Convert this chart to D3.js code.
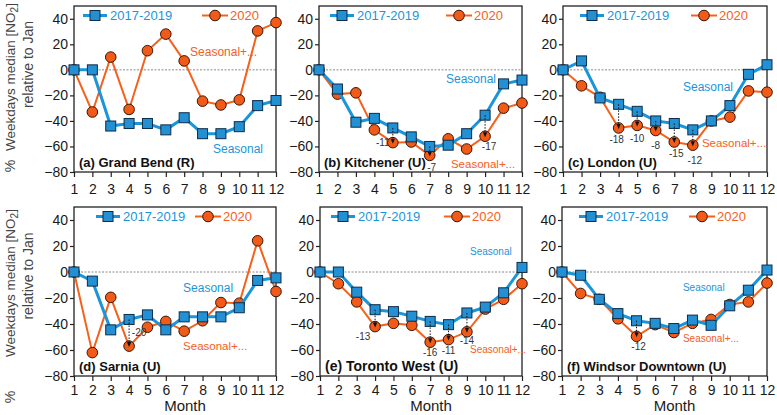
<!DOCTYPE html>
<html><head><meta charset="utf-8">
<script src="https://cdn.jsdelivr.net/npm/d3@7"></script>
<style>
html,body{margin:0;padding:0;background:#fff;}
text{font-family:Arial,"Liberation Sans",Helvetica,sans-serif;}
</style></head>
<body><svg id="c" width="777" height="415"></svg>
<script>
// ---------- DATA ----------
const months = [1,2,3,4,5,6,7,8,9,10,11,12];
const yTicks = [-80,-60,-40,-20,0,20,40];
const seriesNames = ["2017-2019","2020"];
const panelTitles = ["(a) Grand Bend (R)","(b) Kitchener (U)","(c) London (U)","(d) Sarnia (U)","(e) Toronto West (U)","(f) Windsor Downtown (U)"];

const grandBendBase   = [0, 0, -44, -42, -42, -47, -37.5, -50, -50, -44.5, -28, -24];
const grandBend2020   = [0, -33, 10, -31, 15, 28, 7, -24.5, -27.5, -23.5, 30.5, 37];
const kitchenerBase   = [0, -15, -41, -38, -45.5, -52.5, -60, -59, -50, -35.5, -11, -8];
const kitchener2020   = [0, -19, -18, -47, -57, -56.5, -67, -54, -62, -52, -30, -26];
const londonBase      = [0, 7, -22, -27, -32.5, -40, -42, -47, -40, -28, -3.5, 4];
const london2020      = [0, -12.5, -21.5, -45.5, -43.5, -47.5, -56.5, -59, -40, -37, -16.5, -17.5];
const sarniaBase      = [0, -7, -44.5, -36.5, -33, -44.5, -34.5, -34.5, -34.5, -27.5, -6.5, -4.5];
const sarnia2020      = [0, -62, -19.5, -57, -42.5, -38, -45.5, -37.5, -23.5, -24, 24, -15];
const torontoWBase    = [0, 0, -15.5, -29, -30.5, -34, -38, -40.5, -31.5, -27, -16, 3.5];
const torontoW2020    = [0, -9, -23, -42, -39.5, -41, -54, -52, -46, -28.5, -21, -9];
const windsorBase     = [0, -2.5, -21, -32, -37.5, -39.5, -43.5, -37, -41, -26, -14, 1.5];
const windsor2020     = [0, -16.5, -21, -36, -49.5, -40.5, -46.5, -39.5, -36.5, -25, -23, -8.5];

// difference annotations (month, label)
const annotA = [];
const annotB = [[5,"-11"],[7,"-7"],[10,"-17"]];
const annotC = [[4,"-18"],[5,"-10"],[6,"-8"],[7,"-15"],[8,"-12"]];
const annotD = [[4,"-20"]];
const annotE = [[4,"-13"],[7,"-16"],[8,"-11"],[9,"-14"]];
const annotF = [[5,"-12"]];

const baseSeries = [grandBendBase, kitchenerBase, londonBase, sarniaBase, torontoWBase, windsorBase];
const covidSeries = [grandBend2020, kitchener2020, london2020, sarnia2020, torontoW2020, windsor2020];
const annots = [annotA, annotB, annotC, annotD, annotE, annotF];

// ---------- LAYOUT / STYLE ----------
const boxes = [
  {x0:74, x1:276, y0:6, y1:172, row:0},
  {x0:319, x1:522, y0:6, y1:172, row:0},
  {x0:563, x1:767, y0:6, y1:172, row:0},
  {x0:74, x1:276, y0:207, y1:376, row:1},
  {x0:320, x1:522, y0:207, y1:376, row:1},
  {x0:562, x1:767, y0:207, y1:376, row:1}
];
// legend: square x offset, circle x offset (from left of frame)
const legendPos = [[21,141],[23,140],[29,141],[34,134],[23,137],[29,140]];
const titleSize = [13,13,13,13,14,13];
// label positions in data space [month, value, fontsize]
const seasonalPos  = [[8.57,-62,12],[7.88,-7.2,12],[7.47,-13.5,12],[6.94,-12,12],[9.17,15.7,10],[7.49,-12,10]];
const seasonal2Pos = [[7.32,13.9,12],[8.15,-73.7,11.5],[8.49,-57.3,11.5],[6.94,-56.8,11.5],[9.17,-59.9,10],[7.49,-51.4,10]];
// annotation label offsets from the 2020 marker
const annotOff = [
  [],
  [[-10,0],[2,12],[4,10]],
  [[-2,12],[0,13],[0,15],[2,12],[2,15]],
  [[10,-14]],
  [[-12,10],[0,10],[0,11],[0,9]],
  [[2,10]]
];

const BLUE = "#1b95d9", BLUE_FILL = "#2390d4", BLUE_EDGE = "#0d2c48";
const ORANGE = "#f5601c", ORANGE_FILL = "#f25a18", ORANGE_EDGE = "#3a1606";

const svg = d3.select("#c");
svg.append("rect").attr("width",777).attr("height",415).attr("fill","#fff");

boxes.forEach((b, i) => {
  const x = d3.scaleLinear().domain([1,12]).range([b.x0,b.x1]);
  const y = d3.scaleLinear().domain([-80,50]).range([b.y1,b.y0]);
  const g = svg.append("g");

  // zero line
  g.append("line").attr("x1",b.x0).attr("x2",b.x1).attr("y1",y(0)).attr("y2",y(0))
    .attr("stroke","#888").attr("stroke-width",1).attr("stroke-dasharray","2,1.5");

  // axes
  const ya = g.append("g").attr("transform",`translate(${b.x0},0)`)
    .call(d3.axisLeft(y).tickValues(yTicks).tickSize(4).tickPadding(2).tickFormat(d3.format("d")));
  ya.select(".domain").remove();
  ya.selectAll("line").attr("stroke","#222").attr("stroke-width",1.2);
  ya.selectAll("text").attr("font-size",14).attr("fill","#1a1a1a").attr("font-family","Arial, Liberation Sans, sans-serif");

  const xa = g.append("g").attr("transform",`translate(0,${b.y1})`)
    .call(d3.axisBottom(x).tickValues(months).tickSize(5).tickPadding(b.row===0?7:4).tickFormat(d3.format("d")));
  xa.select(".domain").remove();
  xa.selectAll("line").attr("stroke","#222").attr("stroke-width",1.2);
  xa.selectAll("text").attr("font-size",14).attr("fill","#1a1a1a").attr("font-family","Arial, Liberation Sans, sans-serif");

  // frame
  g.append("rect").attr("x",b.x0).attr("y",b.y0).attr("width",b.x1-b.x0).attr("height",b.y1-b.y0)
    .attr("fill","none").attr("stroke","#222").attr("stroke-width",1.3);

  const base = months.map((m,k)=>({m, v: baseSeries[i][k]}));
  const cov = months.map((m,k)=>({m, v: covidSeries[i][k]}));
  const line = d3.line().x(d=>x(d.m)).y(d=>y(d.v));

  // 2020 series
  g.append("path").datum(cov).attr("d",line).attr("fill","none").attr("stroke",ORANGE).attr("stroke-width",2);
  g.selectAll(".c").data(cov).enter().append("circle")
    .attr("cx",d=>x(d.m)).attr("cy",d=>y(d.v)).attr("r",5.3)
    .attr("fill",ORANGE_FILL).attr("stroke",ORANGE_EDGE).attr("stroke-width",1);

  // base series
  g.append("path").datum(base).attr("d",line).attr("fill","none").attr("stroke",BLUE).attr("stroke-width",3);
  g.selectAll(".s").data(base).enter().append("rect")
    .attr("x",d=>x(d.m)-5).attr("y",d=>y(d.v)-5).attr("width",10).attr("height",10)
    .attr("fill",BLUE_FILL).attr("stroke",BLUE_EDGE).attr("stroke-width",1);

  // annotations
  annots[i].forEach((a, k) => {
    const m = a[0];
    const xb = x(m), yb = y(baseSeries[i][m-1]), yc = y(covidSeries[i][m-1]);
    g.append("line").attr("x1",xb).attr("x2",xb).attr("y1",yb).attr("y2",yc-3)
      .attr("stroke","#111").attr("stroke-width",1).attr("stroke-dasharray","1.5,1.5");
    g.append("path").attr("d",`M${xb-2.2},${yc-4}L${xb+2.2},${yc-4}L${xb},${yc+1}Z`).attr("fill","#111");
    const off = annotOff[i][k];
    g.append("text").attr("x",xb+off[0]).attr("y",yc+off[1]).attr("text-anchor","middle")
      .attr("dominant-baseline","central").attr("font-size",10).attr("fill","#333").text(a[1]);
  });

  // Seasonal labels
  const sp = seasonalPos[i], sp2 = seasonal2Pos[i];
  g.append("text").attr("x",x(sp[0])).attr("y",y(sp[1])).attr("dominant-baseline","central")
    .attr("font-size",sp[2]).attr("fill",BLUE).text("Seasonal");
  g.append("text").attr("x",x(sp2[0])).attr("y",y(sp2[1])).attr("dominant-baseline","central")
    .attr("font-size",sp2[2]).attr("fill",ORANGE).text("Seasonal+...");

  // legend
  const ly = b.y0 + 9.5;
  const lp = legendPos[i];
  const sx = b.x0 + lp[0], cx = b.x0 + lp[1];
  g.append("line").attr("x1",sx-12).attr("x2",sx+12).attr("y1",ly).attr("y2",ly).attr("stroke",BLUE).attr("stroke-width",3);
  g.append("rect").attr("x",sx-5).attr("y",ly-5).attr("width",10).attr("height",10)
    .attr("fill",BLUE_FILL).attr("stroke",BLUE_EDGE).attr("stroke-width",1);
  g.append("text").attr("x",sx+15).attr("y",ly).attr("dominant-baseline","central")
    .attr("font-size",13).attr("fill",BLUE).text(seriesNames[0]);
  g.append("line").attr("x1",cx-13).attr("x2",cx+13).attr("y1",ly).attr("y2",ly).attr("stroke",ORANGE).attr("stroke-width",2);
  g.append("circle").attr("cx",cx).attr("cy",ly).attr("r",5.3)
    .attr("fill",ORANGE_FILL).attr("stroke",ORANGE_EDGE).attr("stroke-width",1);
  g.append("text").attr("x",cx+15).attr("y",ly).attr("dominant-baseline","central")
    .attr("font-size",13).attr("fill",ORANGE).text(seriesNames[1]);

  // title
  g.append("text").attr("x",b.x0+5).attr("y",b.y1-10).attr("dominant-baseline","central")
    .attr("font-size",titleSize[i]).attr("font-weight","bold").attr("fill","#111").text(panelTitles[i]);

  // Month label (bottom row)
  if (b.row === 1) {
    g.append("text").attr("x",(b.x0+b.x1)/2+10).attr("y",405).attr("text-anchor","middle")
      .attr("dominant-baseline","central").attr("font-size",15).attr("fill","#1a1a1a").text("Month");
  }
});

// Y-axis labels
const yLabelRows = [
  {l1:77, pct:166, l2:64.5},
  {l1:283, pct:397, l2:276}
];
yLabelRows.forEach(r => {
  const t1 = svg.append("text").attr("transform",`translate(10,${r.l1}) rotate(-90)`)
    .attr("text-anchor","middle").attr("dominant-baseline","central").attr("font-size",13.5).attr("fill","#444");
  t1.append("tspan").text("Weekdays median [NO");
  t1.append("tspan").attr("font-size",10).attr("dy",4).text("2");
  t1.append("tspan").attr("dy",-4).text("]");
  svg.append("text").attr("transform",`translate(10,${r.pct}) rotate(-90)`)
    .attr("text-anchor","middle").attr("dominant-baseline","central").attr("font-size",14).attr("fill","#444").text("%");
  svg.append("text").attr("transform",`translate(28,${r.l2}) rotate(-90)`)
    .attr("text-anchor","middle").attr("dominant-baseline","central").attr("font-size",14).attr("fill","#444").text("relative to Jan");
});
</script></body></html>
